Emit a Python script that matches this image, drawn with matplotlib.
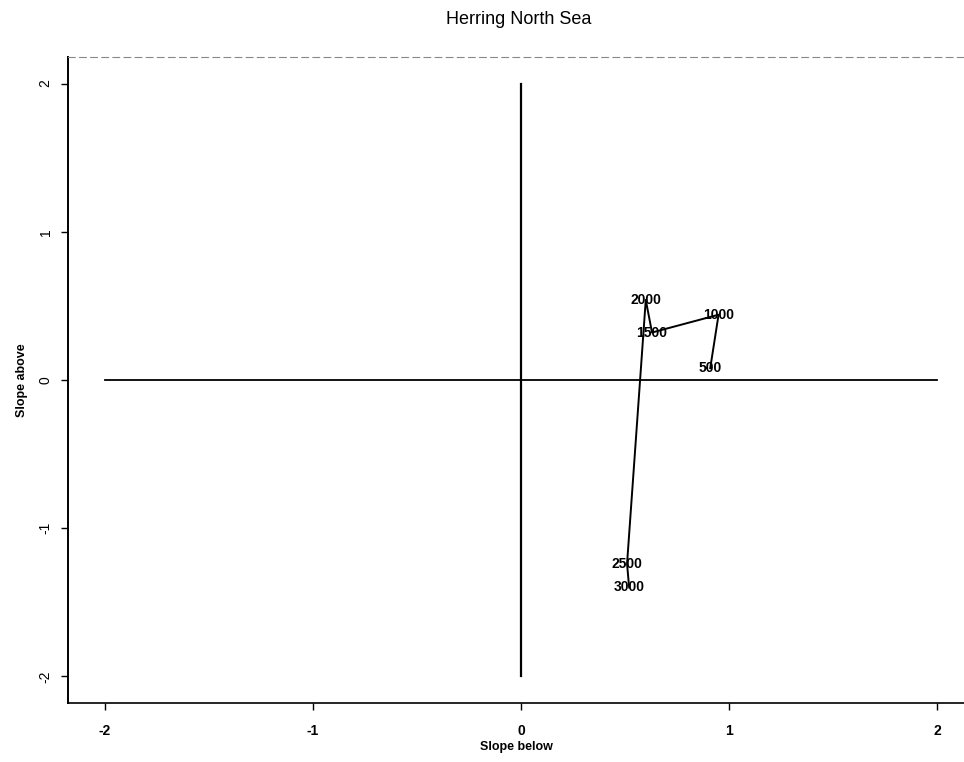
import matplotlib.pyplot as plt

plt.rcParams['font.family'] = ['Liberation Sans', 'DejaVu Sans']

# path of slopes, labelled by stock size
labels = ['500', '1000', '1500', '2000', '2500', '3000']
slope_below = [0.91, 0.95, 0.63, 0.60, 0.51, 0.52]
slope_above = [0.08, 0.44, 0.32, 0.54, -1.24, -1.40]

ticks = [-2, -1, 0, 1, 2]
tick_labels = ['-2', '-1', '0', '1', '2']

fig = plt.figure(figsize=(9.64, 7.62), dpi=100)
ax = fig.add_axes([0.0705, 0.0774, 0.9295, 0.848])

# reference cross
ax.plot([0, 0], [-2, 2], color='black', lw=1.6)
ax.plot([-2, 2], [0, 0], color='black', lw=1.3)

ax.plot(slope_below, slope_above, color='black', lw=1.4)
for lab, x, y in zip(labels, slope_below, slope_above):
    ax.text(x, y, lab, ha='center', va='center', fontsize=10, fontweight='bold')

ax.set_xlim(-2.178, 2.13)
ax.set_ylim(-2.18, 2.18)
ax.set_xticks(ticks)
ax.set_xticklabels(tick_labels, fontsize=10, fontweight='bold')
ax.set_yticks(ticks)
ax.set_yticklabels(tick_labels, fontsize=10, rotation=90, va='center')
ax.tick_params(axis='x', direction='out', length=5, width=1, pad=10)
ax.tick_params(axis='y', direction='out', length=5, width=1, pad=6)

ax.spines['right'].set_visible(False)
ax.spines['top'].set_color('#888888')
ax.spines['top'].set_linestyle((0, (6, 4)))
ax.spines['top'].set_linewidth(0.8)
ax.spines['left'].set_linewidth(1.4)
ax.spines['bottom'].set_linewidth(1.2)

ax.set_xlabel('Slope below', fontsize=9, fontweight='bold', labelpad=2)
ax.set_ylabel('Slope above', fontsize=9, fontweight='bold', labelpad=8)
fig.suptitle('Herring North Sea', fontsize=13, x=0.538, y=0.985)

fig.savefig('out.png', dpi=100)
